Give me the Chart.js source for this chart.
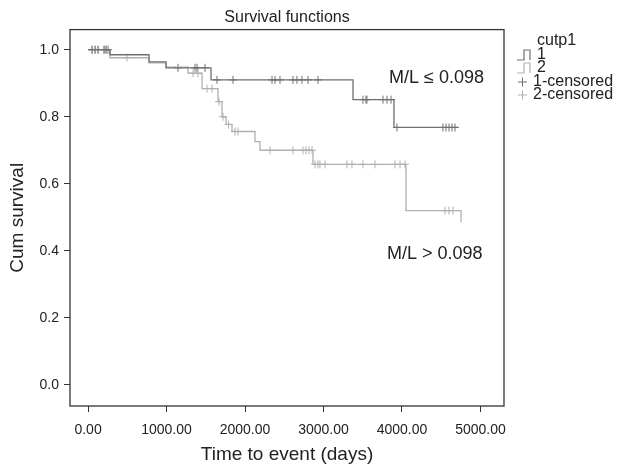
<!DOCTYPE html>
<html>
<head>
<meta charset="utf-8">
<script src="https://cdn.jsdelivr.net/npm/chart.js@4"></script>
<style>
  html, body { margin: 0; padding: 0; background: #fff; }
  #wrap { width: 620px; height: 464px; }
</style>
</head>
<body>
<div id="wrap"><canvas id="kmChart"></canvas></div>
<script>
// Kaplan-Meier, group 1 (M/L <= 0.098): event times (days) and survival after each
const grp1Times = [0, 280, 777, 994, 1567, 3376, 3898, 4713];
const grp1Surv = [1.0, 0.985, 0.964, 0.946, 0.910, 0.851, 0.768, 0.768];
const grp1Censored = [51, 89, 127, 204, 229, 255, 1146, 1363, 1389, 1490, 1643, 1847,
    2344, 2382, 2446, 2611, 2662, 2726, 2803, 2930, 3503, 3541, 3554, 3758, 3809, 3860,
    3936, 4522, 4561, 4599, 4637, 4675];

// group 2 (M/L > 0.098)
const grp2Times = [0, 280, 777, 994, 1274, 1452, 1656, 1707, 1758, 1834, 2127, 2191, 2866, 4051, 4752];
const grp2Surv = [1.0, 0.976, 0.961, 0.948, 0.930, 0.884, 0.845, 0.800, 0.777, 0.756, 0.726, 0.700, 0.658, 0.520, 0.485];
const grp2Censored = [51, 89, 127, 204, 229, 497, 1338, 1401, 1516, 1580, 1669, 1720, 1790,
    1873, 1911, 2318, 2611, 2739, 2777, 2815, 2854, 2892, 2930, 2955, 3019, 3299, 3363,
    3503, 3656, 3911, 3975, 4038, 4548, 4599, 4650];

const xTicks = [0, 1000, 2000, 3000, 4000, 5000];
const yTicks = [0, 0.2, 0.4, 0.6, 0.8, 1.0];

const dark = '#6f6f6f';
const light = '#b0b0b0';
const ink = '#222';
const fontFamily = '"Liberation Sans", Arial, sans-serif';

// survival value of the step function at time t
function survAt(times, surv, t) {
    let s = surv[0];
    for (let i = 0; i < times.length; i++) {
        if (times[i] <= t) s = surv[i];
    }
    return s;
}

const toPoints = (xs, ys) => xs.map((x, i) => ({ x: x, y: ys[i] }));
const censorPoints = (cs, times, surv) => cs.map(t => ({ x: t, y: survAt(times, surv, t) }));

// frame, curve labels and the legend on the right
const decorPlugin = {
    id: 'decor',
    afterDraw(chart) {
        const { ctx, chartArea: a, scales } = chart;
        ctx.save();
        ctx.strokeStyle = '#333';
        ctx.lineWidth = 1.3;
        ctx.strokeRect(a.left, a.top, a.right - a.left, a.bottom - a.top);

        ctx.fillStyle = ink;
        ctx.font = '18px ' + fontFamily;
        ctx.textBaseline = 'middle';
        ctx.textAlign = 'left';
        ctx.fillText('M/L \u2264 0.098', scales.x.getPixelForValue(3835), scales.y.getPixelForValue(0.915));
        ctx.fillText('M/L > 0.098', scales.x.getPixelForValue(3810), scales.y.getPixelForValue(0.39));

        // legend
        const lx = 517;
        ctx.font = '16px ' + fontFamily;
        ctx.fillText('cutp1', 537, 41);
        const rows = [
            { y: 55, color: dark, label: '1' },
            { y: 68, color: light, label: '2' }
        ];
        rows.forEach(r => {
            ctx.strokeStyle = r.color;
            ctx.lineWidth = 1.2;
            ctx.beginPath();
            ctx.moveTo(lx, r.y + 5);
            ctx.lineTo(lx + 7, r.y + 5);
            ctx.lineTo(lx + 7, r.y - 5);
            ctx.lineTo(lx + 13, r.y - 5);
            ctx.lineTo(lx + 13, r.y + 5);
            ctx.stroke();
            ctx.fillText(r.label, 537, r.y);
        });
        const cens = [
            { y: 82, color: dark, label: '1-censored' },
            { y: 95, color: light, label: '2-censored' }
        ];
        cens.forEach(r => {
            ctx.strokeStyle = r.color;
            ctx.lineWidth = 1;
            ctx.beginPath();
            ctx.moveTo(518, r.y);
            ctx.lineTo(527, r.y);
            ctx.moveTo(522.5, r.y - 4.5);
            ctx.lineTo(522.5, r.y + 4.5);
            ctx.stroke();
            ctx.fillText(r.label, 533, r.y);
        });
        ctx.restore();
    }
};

const ctx = document.getElementById('kmChart').getContext('2d');
new Chart(ctx, {
    type: 'scatter',
    data: {
        datasets: [
            {
                type: 'line',
                label: '1',
                data: toPoints(grp1Times, grp1Surv),
                stepped: 'before',
                borderColor: dark,
                borderWidth: 1.3,
                pointRadius: 0,
                fill: false
            },
            {
                type: 'line',
                label: '2',
                data: toPoints(grp2Times, grp2Surv),
                stepped: 'before',
                borderColor: light,
                borderWidth: 1.3,
                pointRadius: 0,
                fill: false
            },
            {
                label: '1-censored',
                data: censorPoints(grp1Censored, grp1Times, grp1Surv),
                pointStyle: 'cross',
                pointRadius: 4,
                borderColor: dark,
                borderWidth: 1
            },
            {
                label: '2-censored',
                data: censorPoints(grp2Censored, grp2Times, grp2Surv),
                pointStyle: 'cross',
                pointRadius: 4,
                borderColor: light,
                borderWidth: 1
            }
        ]
    },
    options: {
        responsive: true,
        maintainAspectRatio: false,
        animation: false,
        layout: { padding: { right: 116, top: 0, bottom: 0, left: 0 } },
        plugins: {
            legend: { display: false },
            tooltip: { enabled: false },
            title: {
                display: true,
                fullSize: false,
                text: 'Survival functions',
                color: ink,
                font: { size: 16, weight: 'normal', family: fontFamily, lineHeight: 1.1 },
                padding: { top: 9, bottom: 3 }
            }
        },
        scales: {
            x: {
                type: 'linear',
                min: -230,
                max: 5300,
                afterFit: s => { s.height = 58; },
                afterBuildTicks: s => { s.ticks = xTicks.map(v => ({ value: v })); },
                grid: { drawOnChartArea: false, drawTicks: true, tickLength: 6, color: '#333' },
                border: { display: false },
                ticks: {
                    color: ink,
                    font: { size: 14, family: fontFamily },
                    maxRotation: 0,
                    autoSkip: false,
                    padding: 10,
                    callback: v => Number(v).toFixed(2)
                },
                title: {
                    display: true,
                    text: 'Time to event (days)',
                    color: ink,
                    font: { size: 19, family: fontFamily, lineHeight: 1 },
                    padding: { top: 0, bottom: 0 }
                }
            },
            y: {
                type: 'linear',
                min: -0.063,
                max: 1.06,
                afterFit: s => { s.width = 70; },
                afterBuildTicks: s => { s.ticks = yTicks.map(v => ({ value: v })); },
                grid: { drawOnChartArea: false, drawTicks: true, tickLength: 6, color: '#333' },
                border: { display: false },
                ticks: {
                    color: ink,
                    font: { size: 14, family: fontFamily },
                    padding: 5,
                    callback: v => Number(v).toFixed(1)
                },
                title: {
                    display: true,
                    text: 'Cum survival',
                    color: ink,
                    font: { size: 19, family: fontFamily, lineHeight: 1 },
                    padding: { top: 8, bottom: 0 }
                }
            }
        }
    },
    plugins: [decorPlugin]
});
</script>
</body>
</html>
